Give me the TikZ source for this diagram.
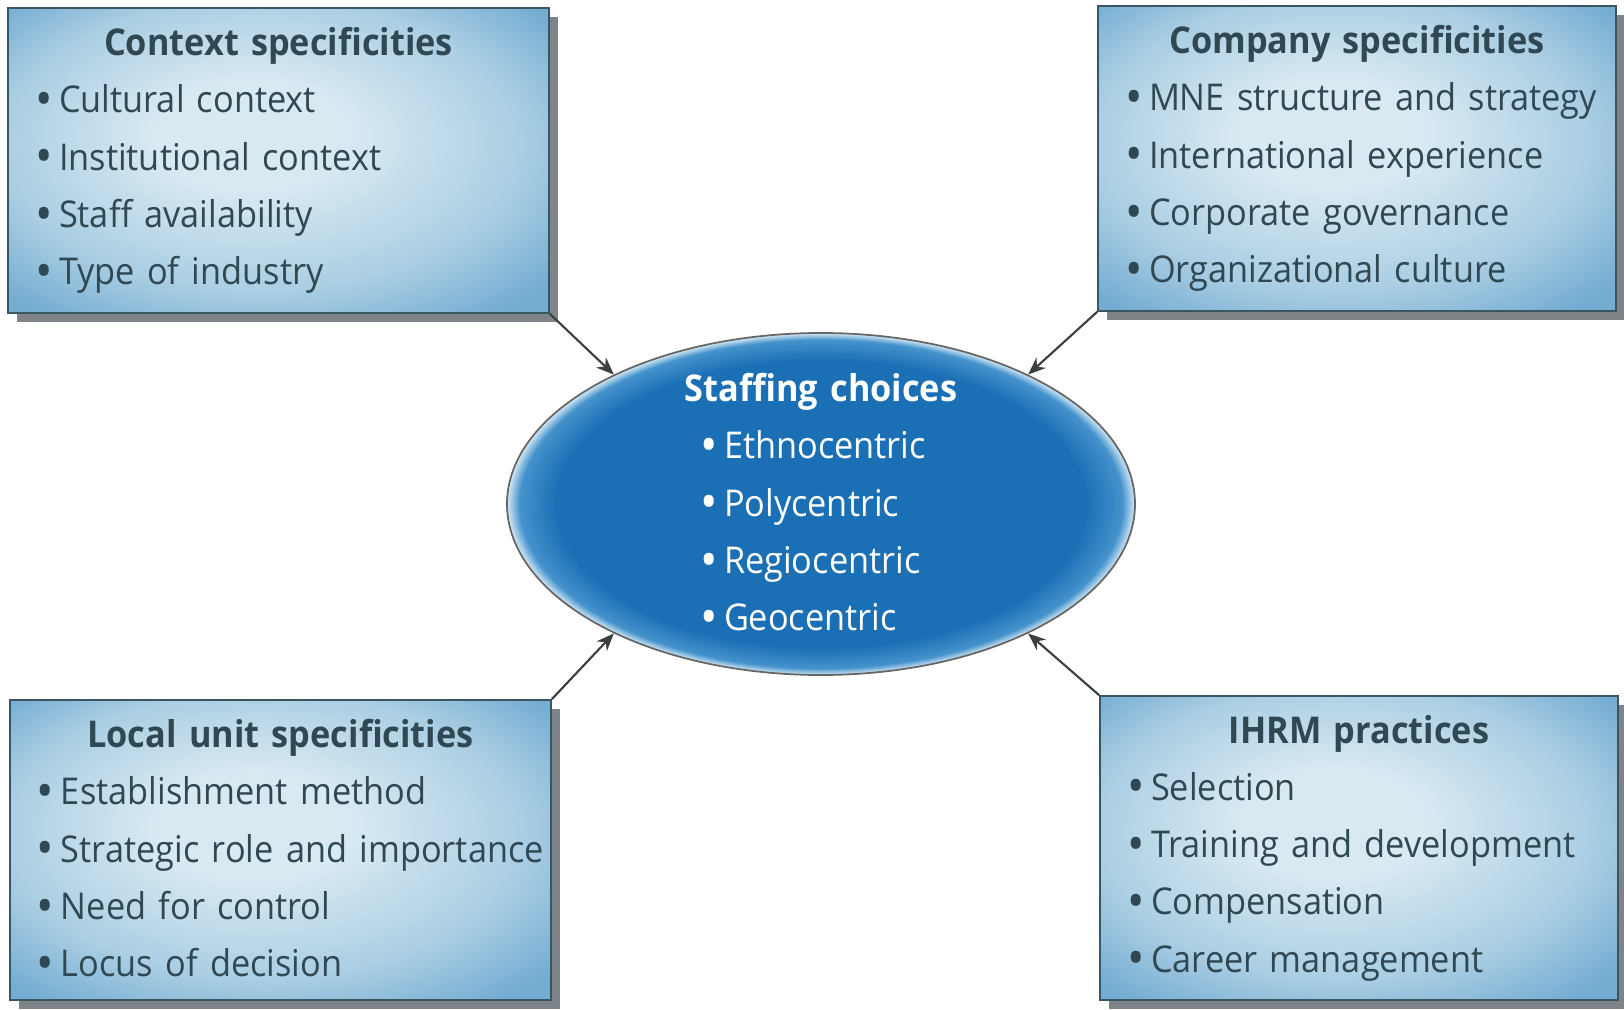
\documentclass[tikz,border=0pt]{standalone}
\usepackage{fontspec}
\setmainfont{Open Sans}[FakeStretch=0.93]
\usetikzlibrary{arrows.meta,shapes.geometric,shadows}
\setlength{\parindent}{0pt}

\definecolor{boxtext}{HTML}{2F4853}
\definecolor{boxline}{HTML}{3B5561}
\definecolor{boxshade}{HTML}{7E8487}
\definecolor{boxlight}{HTML}{D8E9F2}
\definecolor{boxmid}{HTML}{AACEE3}
\definecolor{boxdark}{HTML}{74ACD2}
\definecolor{ovalcore}{HTML}{1A6FB5}
\definecolor{ovalmid}{HTML}{4592CC}
\definecolor{ovalrim}{HTML}{D3E9F5}
\definecolor{arrowgrey}{HTML}{3A3F42}

\pgfdeclareradialshading{boxwash}{\pgfpoint{-3bp}{5bp}}{color(0bp)=(boxlight); color(9bp)=(boxlight); color(24bp)=(boxmid); color(34bp)=(boxdark); color(50bp)=(boxdark)}
\pgfdeclareradialshading{ovalglow}{\pgfpointorigin}{color(0bp)=(ovalcore); color(21bp)=(ovalcore); color(24bp)=(ovalmid); color(25bp)=(ovalrim); color(50bp)=(ovalrim)}

\newcommand\boxfont{\fontsize{10.5}{16.3}\selectfont}
\newcommand\boxhead[1]{{\centering\bfseries #1\par}}
\newcommand\dotitem[1]{\makebox[0.24cm][l]{\raisebox{-0.1em}{\scalebox{1.35}{\textbullet}}}\mbox{#1}\par}

\tikzset{
  infobox/.style={draw=boxline, line width=0.45pt, shading=boxwash,
    drop shadow={shadow xshift=0.09cm, shadow yshift=-0.09cm, fill=boxshade, opacity=1},
    text width=#1, inner xsep=0.27cm, inner ysep=0pt, minimum height=3.05cm,
    text=boxtext, align=left, font=\boxfont},
  infobox/.default=4.87cm,
  choice/.style={ellipse, draw=black!60, line width=0.5pt, shading=ovalglow,
    minimum width=6.28cm, minimum height=3.42cm, inner xsep=0pt, inner ysep=-0.3cm,
    text width=3.2cm, align=left, text=white, font=\boxfont},
  feed/.style={draw=arrowgrey, line width=0.6pt, -{Stealth[length=5pt,width=4pt]}}
}

\begin{document}
\begin{tikzpicture}
  \useasboundingbox (0,0) rectangle (16.24,10.09);

  \coordinate (P1) at (2.785,8.485);
  \coordinate (P2) at (13.57,8.505);
  \coordinate (P3) at (2.805,1.59);
  \coordinate (P4) at (13.59,1.61);
  \coordinate (O) at (8.21,5.05);

  % 四个外框
  \node[infobox] (ctx) at (P1) {\boxhead{Context specificities}
    \dotitem{Cultural context}
    \dotitem{Institutional context}
    \dotitem{Staff availability}
    \dotitem{Type of industry}};
  \node[infobox=4.64cm] (firm) at (P2) {\boxhead{Company specificities}
    \dotitem{MNE structure and strategy}
    \dotitem{International experience}
    \dotitem{Corporate governance}
    \dotitem{Organizational culture}};
  \node[infobox, minimum height=3.0cm] (unit) at (P3) {\boxhead{Local unit specificities}
    \dotitem{Establishment method}
    \dotitem{Strategic role and importance}
    \dotitem{Need for control}
    \dotitem{Locus of decision}};
  \node[infobox=4.64cm, minimum height=3.04cm] (ihrm) at (P4) {\boxhead{IHRM practices}
    \dotitem{Selection}
    \dotitem{Training and development}
    \dotitem{Compensation}
    \dotitem{Career management}};

  % 中间椭圆
  \node[choice] (staff) at (O) {\boxhead{Staffing choices}
    {\leftskip=0.39cm
    \dotitem{Ethnocentric}
    \dotitem{Polycentric}
    \dotitem{Regiocentric}
    \dotitem{Geocentric}}};

  % 箭头
  \draw[feed] (ctx.south east) -- (staff.148);
  \draw[feed] (firm.south west) -- (staff.32);
  \draw[feed] (unit.north east) -- (staff.212);
  \draw[feed] (ihrm.north west) -- (staff.328);
\end{tikzpicture}
\end{document}
